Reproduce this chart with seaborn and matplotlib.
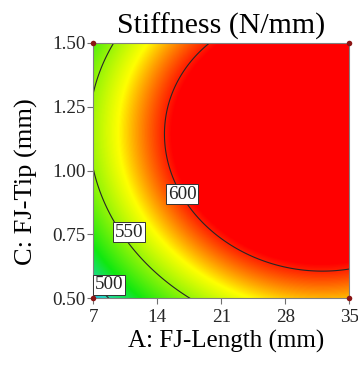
import numpy as np
import matplotlib
matplotlib.use("Agg")
import matplotlib.pyplot as plt
from matplotlib.colors import LinearSegmentedColormap, Normalize
import seaborn as sns

# Quadratic response-surface model for stiffness in coded factors
# a = (A - 21) / 14, c = (C - 1.0) / 0.5
coef_names = ["b0", "A", "C", "A2", "C2", "AC"]
coef_values = [621.7, 43.1, 20.4, -28.9, -38.3, -3.3]

# Design-space limits and design points (factorial corners)
length_range = [7, 35]
tip_range = [0.5, 1.5]
design_length = [7, 7, 35, 35]
design_tip = [0.5, 1.5, 0.5, 1.5]

# Axis ticks and contour levels
x_ticks = [7, 14, 21, 28, 35]
y_ticks = [0.50, 0.75, 1.00, 1.25, 1.50]
y_tick_labels = ["0.50", "0.75", "1.00", "1.25", "1.50"]
contour_levels = [500, 550, 600]
label_positions = [(8.7, 0.554), (10.9, 0.758), (16.7, 0.908)]

# Colour ramp (value, colour)
ramp_values = [476, 495, 522, 572, 604]
ramp_colors = ["#2070ff", "#22d4c4", "#10e810", "#ffff00", "#ff0000"]

sns.set_theme(style="white")
plt.rcParams["font.family"] = ["Liberation Serif", "DejaVu Serif"]

b = dict(zip(coef_names, coef_values))


def stiffness(A, C):
    a = (A - 21.0) / 14.0
    c = (C - 1.0) / 0.5
    return (b["b0"] + b["A"] * a + b["C"] * c + b["A2"] * a ** 2
            + b["C2"] * c ** 2 + b["AC"] * a * c)


A_grid = np.linspace(length_range[0], length_range[1], 400)
C_grid = np.linspace(tip_range[0], tip_range[1], 400)
AA, CC = np.meshgrid(A_grid, C_grid)
Y = stiffness(AA, CC)

vmin, vmax = ramp_values[0], ramp_values[-1]
nodes = [(v - vmin) / (vmax - vmin) for v in ramp_values]
cmap = LinearSegmentedColormap.from_list("stiff", list(zip(nodes, ramp_colors)))

fig = plt.figure(figsize=(3.58, 3.67), dpi=100)
ax = fig.add_axes([0.2606, 0.187, 0.7148, 0.6965])

ax.imshow(Y, origin="lower", aspect="auto", cmap=cmap,
          norm=Normalize(vmin=vmin, vmax=vmax, clip=True),
          extent=[length_range[0], length_range[1], tip_range[0], tip_range[1]],
          interpolation="bilinear", zorder=1)

ax.contour(AA, CC, Y, levels=contour_levels, colors="#262626",
           linewidths=0.8, zorder=2)

for level, (lx, ly) in zip(contour_levels, label_positions):
    ax.text(lx, ly, f"{level}", fontsize=13.8, ha="center", va="center",
            zorder=4,
            bbox=dict(boxstyle="square,pad=0.08", facecolor="white",
                      edgecolor="#333333", linewidth=0.7))

ax.scatter(design_length, design_tip, s=16, color="#8b1414", zorder=5,
           clip_on=False, linewidths=0)

ax.set_xlim(length_range)
ax.set_ylim(tip_range)
ax.set_xticks(x_ticks)
ax.set_yticks(y_ticks)
ax.set_yticklabels(y_tick_labels)
ax.tick_params(axis="both", which="major", direction="out", length=4.5,
               width=0.8, color="#707070", labelsize=13.8,
               bottom=True, left=True)
ax.tick_params(axis="x", pad=3)
ax.tick_params(axis="y", pad=1)
for sp in ax.spines.values():
    sp.set_color("#808080")
    sp.set_linewidth(0.8)

ax.set_title("Stiffness (N/mm)", fontsize=21.5, pad=6.8, color="black")
ax.set_xlabel("A: FJ-Length (mm)", fontsize=18, color="black")
ax.set_ylabel("C: FJ-Tip (mm)", fontsize=19, color="black")
ax.xaxis.set_label_coords(0.521, -0.125)
ax.yaxis.set_label_coords(-0.215, 0.455)

fig.savefig("out.png", dpi=100)
